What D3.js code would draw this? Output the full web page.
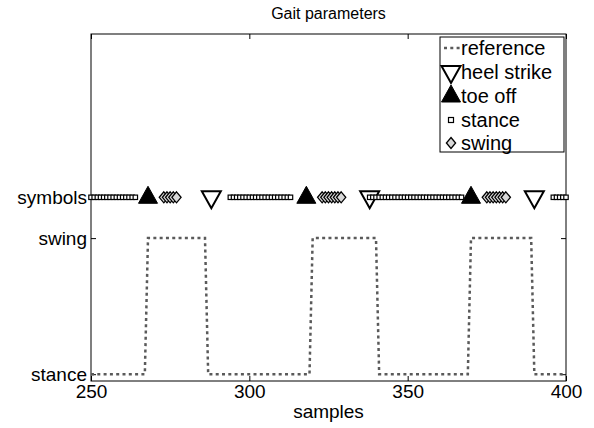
<!DOCTYPE html>
<html>
<head>
<meta charset="utf-8">
<script src="https://cdn.jsdelivr.net/npm/d3@7"></script>
<style>
  body { margin: 0; background: #fff; }
  svg { display: block; font-family: 'Liberation Sans', Arial, sans-serif; }
</style>
</head>
<body>
<svg id="chart" width="594" height="428"></svg>
<script>
// reference state (breakpoints)
const refSamples = [250, 267, 268, 286, 287, 319, 320, 340, 341, 369, 370, 389, 390, 400]
const refStates = [0, 0, 1, 1, 0, 0, 1, 1, 0, 0, 1, 1, 0, 0]

// detected events / phases on the "symbols" row
const heelStrike = [288, 338, 390]
const toeOff = [268, 318, 370]
const stanceRuns = [[250, 264], [294, 313], [338, 367], [396, 400]]
const swingRuns = [[273, 277], [323, 329], [375, 381]]

const xTicks = [250, 300, 350, 400]
const yLevels = [0, 1, 1.3]
const yLabels = ['stance', 'swing', 'symbols']
const legendNames = ['reference', 'heel strike', 'toe off', 'stance', 'swing']

const symbolLevel = 1.3
const stanceSamples = stanceRuns.flatMap(([a, b]) => d3.range(a, b + 1))
const swingSamples = swingRuns.flatMap(([a, b]) => d3.range(a, b + 1))

const box = { left: 91, right: 566, top: 34, bottom: 381 }
const svg = d3.select('#chart')

const x = d3.scaleLinear().domain([250, 400]).range([box.left, box.right])
const y = d3.scaleLinear().domain([-0.05, 2.5]).range([box.bottom, box.top])

// plot box
svg.append('rect')
  .attr('x', box.left).attr('y', box.top)
  .attr('width', box.right - box.left).attr('height', box.bottom - box.top)
  .attr('fill', '#fff').attr('stroke', '#000').attr('stroke-width', 1)

const fmtY = (d) => yLabels[yLevels.indexOf(d)]

const axisStyle = (g, hideText) => {
  g.select('.domain').remove()
  g.selectAll('.tick line').attr('stroke', '#000')
  g.selectAll('.tick text').attr('fill', '#000').style('font-size', '19px')
  if (hideText) g.selectAll('.tick text').remove()
}

svg.append('g').attr('transform', `translate(0,${box.bottom})`)
  .call(d3.axisBottom(x).tickValues(xTicks).tickSize(-5).tickPadding(3))
  .call((g) => axisStyle(g, false))
svg.append('g').attr('transform', `translate(0,${box.top})`)
  .call(d3.axisTop(x).tickValues(xTicks).tickSize(-5))
  .call((g) => axisStyle(g, true))
svg.append('g').attr('transform', `translate(${box.left},0)`)
  .call(d3.axisLeft(y).tickValues(yLevels).tickFormat(fmtY).tickSize(-5).tickPadding(4))
  .call((g) => axisStyle(g, false))
svg.append('g').attr('transform', `translate(${box.right},0)`)
  .call(d3.axisRight(y).tickValues(yLevels).tickSize(-5))
  .call((g) => axisStyle(g, true))

// reference line
const line = d3.line().x((d) => x(d[0])).y((d) => y(d[1]))
svg.append('path')
  .datum(refSamples.map((s, i) => [s, refStates[i]]))
  .attr('d', line)
  .attr('fill', 'none')
  .attr('stroke', '#5a5a5a')
  .attr('stroke-width', 2.5)
  .attr('stroke-dasharray', '3,3.3')

// marker shapes
const triDown = (cx, cy) => `M${cx - 9.5},${cy - 6} L${cx + 9.5},${cy - 6} L${cx},${cy + 11} Z`
const triUp = (cx, cy) => `M${cx - 9.5},${cy + 6} L${cx + 9.5},${cy + 6} L${cx},${cy - 11} Z`
const diamond = (cx, cy) => `M${cx},${cy - 5.5} L${cx + 4.6},${cy} L${cx},${cy + 5.5} L${cx - 4.6},${cy} Z`

const yS = y(symbolLevel)

svg.append('g').selectAll('path').data(heelStrike).enter().append('path')
  .attr('d', (d) => triDown(x(d), yS))
  .attr('fill', 'none').attr('stroke', '#000').attr('stroke-width', 2)

svg.append('g').selectAll('path').data(toeOff).enter().append('path')
  .attr('d', (d) => triUp(x(d), yS))
  .attr('fill', '#000').attr('stroke', '#000').attr('stroke-width', 1)

svg.append('g').selectAll('rect').data(stanceSamples).enter().append('rect')
  .attr('x', (d) => x(d) - 2.2).attr('y', yS - 2.2)
  .attr('width', 4.4).attr('height', 4.4)
  .attr('fill', '#fff').attr('stroke', '#000').attr('stroke-width', 1.2)

svg.append('g').selectAll('path').data(swingSamples).enter().append('path')
  .attr('d', (d) => diamond(x(d), yS))
  .attr('fill', '#d8d8d8').attr('stroke', '#000').attr('stroke-width', 1.3)

// legend
const lg = svg.append('g')
lg.append('rect')
  .attr('x', 440).attr('y', 37).attr('width', 124).attr('height', 115)
  .attr('fill', '#fff').attr('stroke', '#000').attr('stroke-width', 1)

const rowY = [48, 72, 96, 120, 143]
const mx = 451
lg.append('line')
  .attr('x1', 444).attr('x2', 460).attr('y1', rowY[0]).attr('y2', rowY[0])
  .attr('stroke', '#5a5a5a').attr('stroke-width', 2.5).attr('stroke-dasharray', '3,3.3')
lg.append('path').attr('d', triDown(mx, rowY[1]))
  .attr('fill', 'none').attr('stroke', '#000').attr('stroke-width', 2)
lg.append('path').attr('d', triUp(mx, rowY[2]))
  .attr('fill', '#000').attr('stroke', '#000')
lg.append('rect').attr('x', mx - 2.5).attr('y', rowY[3] - 2.5).attr('width', 5).attr('height', 5)
  .attr('fill', '#fff').attr('stroke', '#000').attr('stroke-width', 1.2)
lg.append('path').attr('d', diamond(mx, rowY[4]))
  .attr('fill', '#d8d8d8').attr('stroke', '#000').attr('stroke-width', 1.3)

lg.selectAll('text').data(legendNames).enter().append('text')
  .attr('x', 461).attr('y', (d, i) => rowY[i])
  .attr('dy', '0.35em')
  .style('font-size', '20px')
  .text((d) => d)

// titles
svg.append('text')
  .attr('x', (box.left + box.right) / 2).attr('y', 19)
  .attr('text-anchor', 'middle').style('font-size', '16px')
  .text('Gait parameters')
svg.append('text')
  .attr('x', (box.left + box.right) / 2).attr('y', 418)
  .attr('text-anchor', 'middle').style('font-size', '19px')
  .text('samples')
</script>
</body>
</html>
